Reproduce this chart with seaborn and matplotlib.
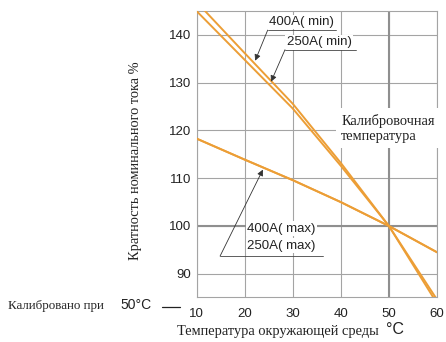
import matplotlib
matplotlib.use("Agg")
import matplotlib.pyplot as plt
from matplotlib.lines import Line2D
import numpy as np
import pandas as pd
import seaborn as sns

# Ambient temperature, °C
temps = [10, 20, 30, 40, 50, 60]
# Current-rating multiple, % of nominal
i400_min = [146.9, 136.2, 125.6, 113.2, 100.0, 84.6]
i250_min = [145.0, 134.8, 124.6, 112.6, 100.0, 83.8]
i400_max = [118.3, 113.9, 109.6, 105.0, 100.0, 94.5]
i250_max = [118.3, 113.9, 109.6, 105.0, 100.0, 94.5]

series = {
    "400A(min)": i400_min,
    "250A(min)": i250_min,
    "400A(max)": i400_max,
    "250A(max)": i250_max,
}

x_ticks = [10, 20, 30, 40, 50, 60]
y_ticks = [90, 100, 110, 120, 130, 140]
calib_temp = 50
calib_ratio = 100

df = pd.DataFrame(
    [(name, t, v) for name, vals in series.items() for t, v in zip(temps, vals)],
    columns=["series", "temp", "ratio"],
)

sns.set_style("white")
plt.rcParams["font.family"] = ["Liberation Sans", "DejaVu Sans"]
SERIF = ["Liberation Serif", "DejaVu Serif"]
SANS = ["Liberation Sans", "DejaVu Sans"]
SERIF_SIZE = 10.4

ORANGE = "#EC9E36"
GRID = "#a4a4a4"
GRID_DARK = "#8f8f8f"

W, H = 446, 342
fig, ax = plt.subplots(figsize=(W / 100, H / 100), dpi=100)
fig.subplots_adjust(left=196.5 / W, right=437 / W, top=1 - 11 / H, bottom=1 - 296.7 / H)

sns.lineplot(
    data=df, x="temp", y="ratio", hue="series",
    palette={k: ORANGE for k in series}, legend=False,
    linewidth=1.4, ax=ax, zorder=4,
)

ax.set_xlim(10, 60)
ax.set_ylim(85.2, 145)
ax.set_xticks(x_ticks)
ax.set_yticks(y_ticks)
ax.set_axisbelow(True)
ax.grid(True, color=GRID, linewidth=0.8)
ax.axvline(calib_temp, color=GRID_DARK, linewidth=1.5, zorder=1)
ax.axhline(calib_ratio, color=GRID_DARK, linewidth=1.5, zorder=1)
for s in ax.spines.values():
    s.set_color(GRID)
    s.set_linewidth(0.8)

ax.tick_params(axis="y", length=3, color=GRID, pad=1, labelsize=9.5, labelcolor="#222")
ax.tick_params(axis="x", length=0, pad=8, labelsize=9.5, labelcolor="#222")
ax.set_xlabel("")
ax.set_ylabel("")

arrow = dict(arrowstyle="-|>", color="#333", lw=0.6, mutation_scale=9,
             shrinkA=0, shrinkB=0)
box = dict(fc="white", ec="none", pad=1.0)


def leader(text_lines, under_y, x0, x1, tip, text_x, text_ys):
    ax.plot([x0, x1], [under_y, under_y], color="#444", lw=0.6, zorder=5,
            clip_on=False)
    ax.annotate("", xy=tip, xytext=(x0, under_y), arrowprops=arrow, zorder=6)
    for t, ty in zip(text_lines, text_ys):
        ax.text(text_x, ty, t, ha="center", va="center", fontsize=9.5,
                family=SANS, color="#222", bbox=box, zorder=5)


# Leader callouts for each curve pair
leader(["400A( min)"], 141.0, 24.8, 38.9, (22.2, 134.6), 31.9, [142.7])
leader(["250A( min)"], 136.9, 28.4, 43.1, (25.5, 130.2), 35.5, [138.5])
leader(["400A( max)", "250A( max)"], 93.7, 14.9, 36.2, (23.8, 111.8), 27.6,
       [99.4, 95.9])

ax.text(40.1, 120.5, "Калибровочная\nтемпература", ha="left", va="center",
        fontsize=SERIF_SIZE, family=SERIF, color="#222", linespacing=1.2,
        bbox=dict(fc="white", ec="none", boxstyle="square,pad=0.4"), zorder=3)

# Axis titles and calibration note
fig.text(135 / W, 1 - 161 / H, "Кратность номинального тока %", rotation=90,
         ha="center", va="center", fontsize=SERIF_SIZE, family=SERIF, color="#222")
fig.text(278 / W, 1 - 331 / H, "Температура окружающей среды", ha="center",
         va="center", fontsize=SERIF_SIZE, family=SERIF, color="#222")
fig.text(386 / W, 1 - 330 / H, "°C", ha="left", va="center", fontsize=11.5,
         family=SANS, color="#222")
fig.text(8 / W, 1 - 306 / H, "Калибровано при", ha="left", va="center",
         fontsize=9.3, family=SERIF, color="#222")
fig.text(120 / W, 1 - 305 / H, "50°C", ha="left", va="center",
         fontsize=10, family=SANS, color="#222")
fig.add_artist(Line2D([162 / W, 180 / W], [1 - 306.5 / H, 1 - 306.5 / H],
                      color="#222", lw=0.9))

fig.savefig("out.png", dpi=100)
